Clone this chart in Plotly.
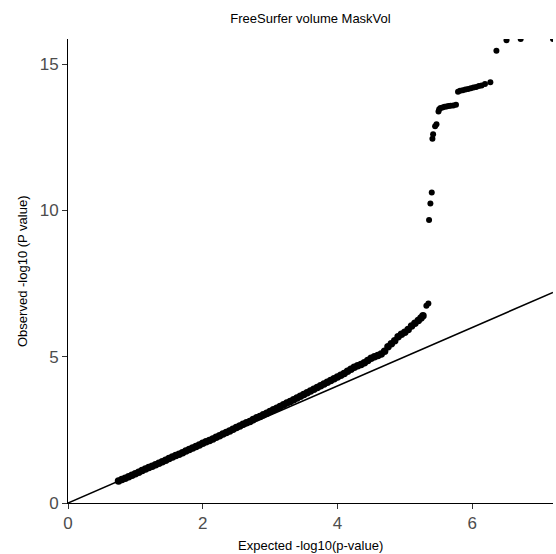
import plotly.graph_objects as go

# Bulk of the QQ curve (expected, observed)
bulk_expected = [0.75, 0.80, 0.85, 0.90, 0.95, 1.00, 1.05, 1.10, 1.15, 1.20, 1.25, 1.30, 1.35, 1.40, 1.45,
                 1.50, 1.55, 1.60, 1.65, 1.70, 1.75, 1.80, 1.85, 1.90, 1.95, 2.00, 2.05, 2.10, 2.15, 2.20,
                 2.25, 2.30, 2.35, 2.40, 2.45, 2.50, 2.55, 2.60, 2.65, 2.70, 2.75, 2.80, 2.85, 2.90, 2.95,
                 3.00, 3.05, 3.10, 3.15, 3.20, 3.25, 3.30, 3.35, 3.40, 3.45, 3.50, 3.55, 3.60, 3.65, 3.70,
                 3.75, 3.80, 3.85, 3.90, 3.95, 4.00, 4.05, 4.10, 4.15, 4.20, 4.25, 4.30, 4.35, 4.40, 4.45,
                 4.50, 4.55, 4.60, 4.65, 4.70, 4.75, 4.80, 4.85, 4.90, 4.95, 5.00, 5.05, 5.10, 5.15, 5.20,
                 5.24, 5.27]
bulk_observed = [0.75, 0.80, 0.85, 0.90, 0.95, 1.00, 1.05, 1.11, 1.16, 1.21, 1.26, 1.31, 1.36, 1.41, 1.46,
                 1.52, 1.57, 1.62, 1.67, 1.72, 1.78, 1.83, 1.88, 1.93, 1.98, 2.04, 2.09, 2.14, 2.19, 2.25,
                 2.30, 2.36, 2.41, 2.46, 2.52, 2.58, 2.63, 2.69, 2.74, 2.79, 2.85, 2.91, 2.96, 3.02, 3.07,
                 3.13, 3.19, 3.24, 3.30, 3.36, 3.42, 3.47, 3.53, 3.59, 3.65, 3.71, 3.77, 3.83, 3.89, 3.95,
                 4.01, 4.07, 4.13, 4.19, 4.25, 4.31, 4.37, 4.43, 4.50, 4.57, 4.64, 4.69, 4.73, 4.79, 4.87,
                 4.95, 5.00, 5.04, 5.09, 5.19, 5.34, 5.44, 5.55, 5.68, 5.77, 5.84, 5.93, 6.05, 6.14, 6.24,
                 6.32, 6.40]

# Upper tail (individual points)
tail_expected = [5.32, 5.35, 5.36, 5.38, 5.40, 5.41, 5.42, 5.45, 5.47, 5.50, 5.51,
                 5.53, 5.56, 5.59, 5.62, 5.65, 5.68, 5.72, 5.76,
                 5.79, 5.82, 5.86, 5.90, 5.94, 5.98, 6.02, 6.06, 6.10, 6.14, 6.19, 6.27,
                 6.36, 6.51, 6.72, 7.20]
tail_observed = [6.74, 6.82, 9.67, 10.24, 10.61, 12.45, 12.60, 12.88, 12.95, 13.38, 13.46,
                 13.50, 13.52, 13.54, 13.55, 13.57, 13.58, 13.59, 13.61,
                 14.06, 14.09, 14.11, 14.13, 14.15, 14.18, 14.20, 14.22, 14.25, 14.27, 14.32, 14.38,
                 15.46, 15.82, 15.86, 15.86]

# Reference line y = x
ref_line = [0.0, 7.20]

x_max = 7.20
y_max = 15.86

W, H = 556, 554
ML, MR, MT, MB = 68, 3, 39, 51
PW, PH = W - ML - MR, H - MT - MB

fig = go.Figure()
fig.add_trace(go.Scatter(x=ref_line, y=ref_line, mode="lines",
                         line=dict(color="black", width=1.6), hoverinfo="skip", showlegend=False))
fig.add_trace(go.Scatter(x=bulk_expected, y=bulk_observed, mode="markers",
                         marker=dict(color="black", size=7.5), showlegend=False))
fig.add_trace(go.Scatter(x=tail_expected, y=tail_observed, mode="markers",
                         marker=dict(color="black", size=6), showlegend=False))

font_family = "Liberation Sans, Arial, sans-serif"
axis_common = dict(
    showgrid=False, zeroline=False, showline=True, linecolor="black", linewidth=1,
    ticks="outside", ticklen=5, tickwidth=1, tickcolor="#333333", automargin=False,
    tickfont=dict(family=font_family, size=17, color="#4D4D4D"),
)
fig.update_layout(
    width=W, height=H,
    margin=dict(l=ML, r=MR, t=MT, b=MB, autoexpand=False),
    paper_bgcolor="white", plot_bgcolor="white",
    title=dict(text="FreeSurfer volume MaskVol", x=(ML + W - MR) / 2 / W, xanchor="center",
               y=1 - 18 / H, yanchor="middle",
               font=dict(family=font_family, size=13, color="black")),
    xaxis=dict(range=[0, x_max], tickvals=[0, 2, 4, 6], **axis_common),
    yaxis=dict(range=[0, y_max], tickvals=[0, 5, 10, 15], **axis_common),
    annotations=[
        dict(text="Expected -log10(p-value)", xref="paper", yref="paper",
             x=0.5, y=(MT + PH - 545) / PH, xanchor="center", yanchor="middle",
             showarrow=False, font=dict(family=font_family, size=13, color="black")),
        dict(text="Observed -log10 (P value)", xref="paper", yref="paper",
             x=(22 - ML) / PW, y=0.5, xanchor="center", yanchor="middle", textangle=-90,
             showarrow=False, font=dict(family=font_family, size=13, color="black")),
    ],
)

fig.write_html("out.html", config={"displayModeBar": False},
               post_script="document.body.style.margin='0';document.body.style.overflow='hidden';")
